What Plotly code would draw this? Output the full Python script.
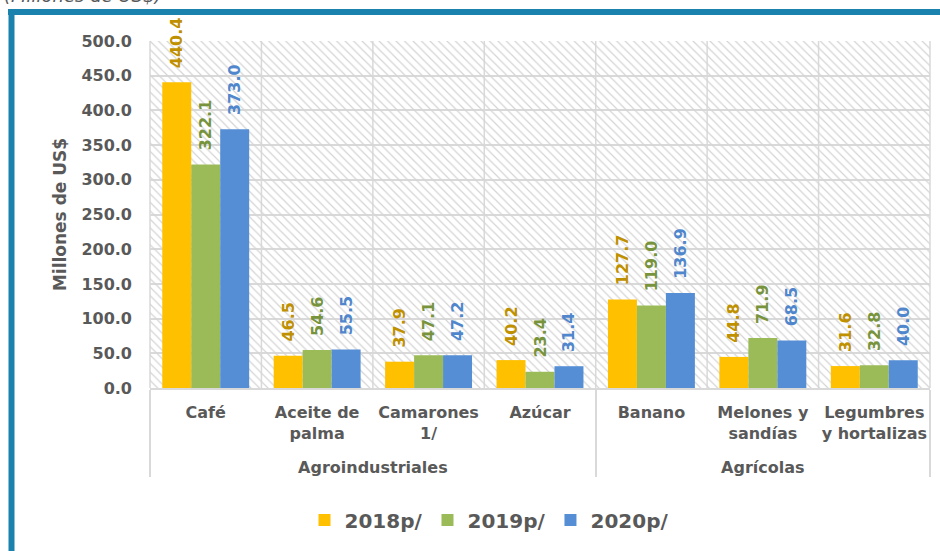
import plotly.graph_objects as go

groups = ["Agroindustriales"] * 4 + ["Agrícolas"] * 3
categories = ["Café", "Aceite de<br>palma", "Camarones<br>1/", "Azúcar",
              "Banano", "Melones y<br>sandías", "Legumbres<br>y hortalizas"]
series_names = ["2018p/", "2019p/", "2020p/"]
v2018 = [440.4, 46.5, 37.9, 40.2, 127.7, 44.8, 31.6]
v2019 = [322.1, 54.6, 47.1, 23.4, 119.0, 71.9, 32.8]
v2020 = [373.0, 55.5, 47.2, 31.4, 136.9, 68.5, 40.0]
y_ticks = [0, 50, 100, 150, 200, 250, 300, 350, 400, 450, 500]

bar_colors = ["#FFC000", "#9BBB59", "#558ED5"]
text_colors = ["#BF9000", "#77933C", "#4F86CC"]
gray = "#595959"
font = "DejaVu Sans"
NB = "\u00a0"

W, H = 940, 551
L, R, T, B = 150, 10, 41, 163
pw, ph = W - L - R, H - T - B
def px_x(p):
    return (p - L) / pw
def px_y(p):
    return (H - B - p) / ph

# pad each tick label to three lines so that the group row sits lower
cat_labels = []
for c in categories:
    n = c.count("<br>") + 1
    pad = "<br>" + NB
    if n == 1:
        pad = pad * 2
    cat_labels.append(c + pad + "<span style='font-size:22px'>" + NB + "</span>")

fig = go.Figure()
# hatched background
fig.add_trace(go.Bar(
    x=[groups, cat_labels], y=[500] * len(categories), width=1, offset=-0.5,
    marker=dict(color="#d4d4d4", line=dict(width=0),
                pattern=dict(shape="\\", size=6, solidity=0.2, fillmode="replace")),
    showlegend=False, hoverinfo="skip"))

offsets = [-0.39, -0.13, 0.13]
for name, vals, bc, tc, off in zip(series_names, [v2018, v2019, v2020], bar_colors, text_colors, offsets):
    fig.add_trace(go.Bar(
        x=[groups, cat_labels], y=vals, name=name, width=0.26, offset=off,
        marker=dict(color=bc, line=dict(width=0)),
        text=[NB * 2 + f"{v:.1f}" for v in vals], textposition="outside", textangle=-90,
        textfont=dict(family=font, size=16, color=tc, weight="bold"),
        constraintext="none", cliponaxis=False))

shapes = []
for i in range(len(categories) + 1):
    shapes.append(dict(type="line", xref="paper", yref="paper", x0=i / 7, x1=i / 7, y0=0, y1=1,
                       line=dict(color="#d9d9d9", width=1.5), layer="below"))
# outer blue frame
shapes.append(dict(type="line", xref="paper", yref="paper", x0=px_x(8), x1=px_x(960),
                   y0=px_y(12), y1=px_y(12), line=dict(color="#1B82AE", width=6)))
shapes.append(dict(type="line", xref="paper", yref="paper", x0=px_x(11.5), x1=px_x(11.5),
                   y0=px_y(9), y1=px_y(580), line=dict(color="#1B82AE", width=6)))

fig.update_layout(
    width=W, height=H, barmode="overlay",
    margin=dict(l=L, r=R, t=T, b=B),
    plot_bgcolor="white", paper_bgcolor="white",
    font=dict(family=font, color=gray, size=16),
    shapes=shapes,
    legend=dict(orientation="h", x=px_x(489), xanchor="center", y=px_y(520), yanchor="middle",
                font=dict(family=font, size=20, color=gray, weight="bold"), traceorder="normal"),
    annotations=[dict(text="<i>(Millones de US$)</i>", xref="paper", yref="paper",
                      x=px_x(2), xanchor="left", y=px_y(-4), yanchor="middle", showarrow=False,
                      font=dict(family=font, size=18, color=gray))],
    xaxis=dict(type="multicategory", showgrid=False, showline=True, linecolor="#d9d9d9", linewidth=1.5,
               tickangle=0, ticklabelstandoff=9,
               tickfont=dict(family=font, size=16, color=gray, weight="bold"),
               showdividers=True, dividercolor="#d9d9d9", dividerwidth=1.5, ticks=""),
    yaxis=dict(range=[0, 500], tickvals=y_ticks, tickformat=".1f", showgrid=True, gridcolor="#d9d9d9",
               gridwidth=1.5, zeroline=False, showline=False, ticks="", ticklabelstandoff=17,
               tickfont=dict(family=font, size=16, color=gray, weight="bold"),
               title=dict(text="Millones de US$", standoff=10,
                          font=dict(family=font, size=17, color=gray, weight="bold"))),
)
fig.write_html("out.html", config={"displayModeBar": False},
               post_script="document.body.style.margin='0';document.body.style.overflow='hidden';")
